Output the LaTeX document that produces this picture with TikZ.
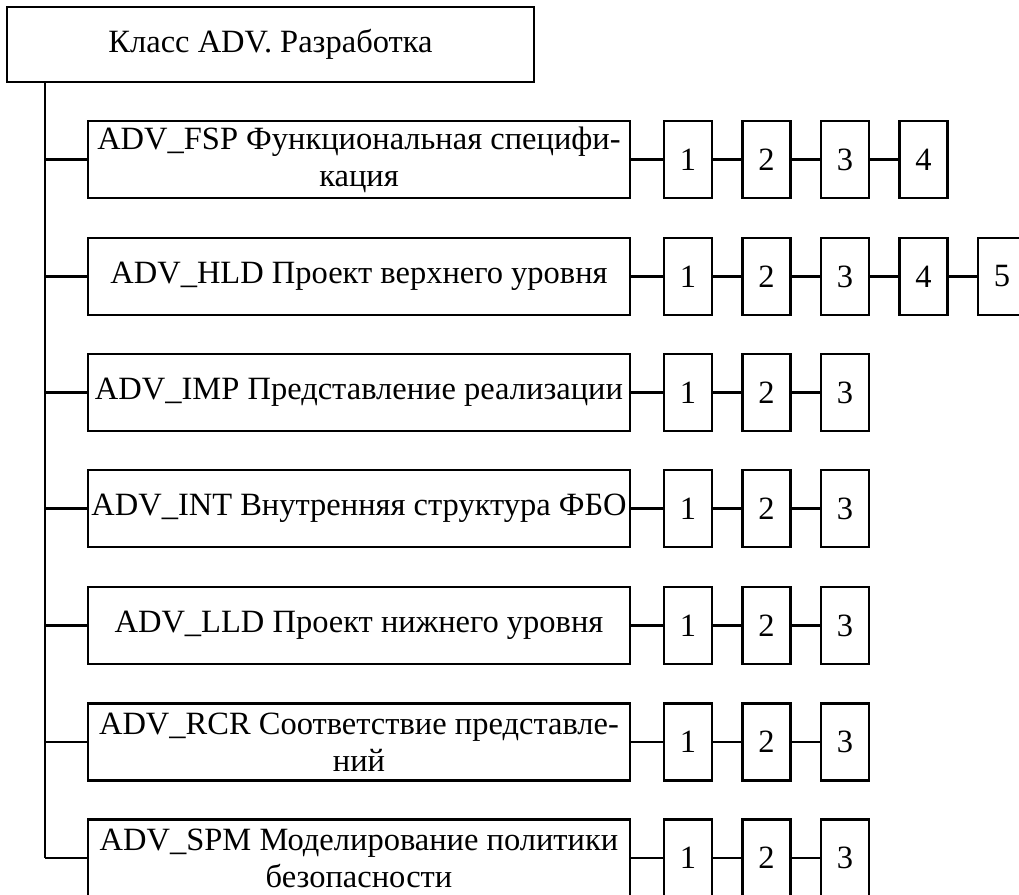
\documentclass[tikz,border=0pt]{standalone}
\usepackage{fontspec}
\setmainfont{Liberation Serif}
\begin{document}
\begin{tikzpicture}[x=1pt,y=-1pt,
  every node/.style={font=\fontsize{32.5}{37}\selectfont},
  boxline/.style={line width=2.4pt},
  topbox/.style={boxline,draw,minimum width=527pt,minimum height=75pt,inner sep=0pt},
  bigbox/.style={boxline,draw,minimum width=542pt,minimum height=77pt,inner sep=0pt,align=center},
  numbox/.style={boxline,draw,minimum width=48pt,minimum height=77pt,inner sep=0pt},
  link/.style={line width=2.4pt}]
\useasboundingbox (0,0) rectangle (1019,894);
\clip (0,0) rectangle (1019,894);
\fill[white] (0,0) rectangle (1019,894);
\node[topbox] (top) at (270.5,44.5) {Класс ADV. Разработка};
\coordinate (tk) at (45,82);
\foreach \name/\y/\txt/\n in {
  fsp/159.5/{ADV\_FSP Функциональная специфи-\\кация}/4,
  hld/276.5/{ADV\_HLD Проект верхнего уровня}/5,
  imp/392.5/{ADV\_IMP Представление реализации}/3,
  int/508.5/{ADV\_INT Внутренняя структура ФБО}/3,
  lld/625.5/{ADV\_LLD Проект нижнего уровня}/3,
  rcr/742/{ADV\_RCR Соответствие представле-\\ний}/3,
  spm/858/{ADV\_SPM Моделирование политики\\безопасности}/3}{
  \node[bigbox] (\name) at (359,\y) {\txt};
  \draw[link] (tk |- \name.west) -- (\name.west);
  \foreach \k in {1,...,\n}{
    \node[numbox] (\name\k) at ({688+78.5*(\k-1)},\y) {\k};
  }
  \draw[link] (\name.east) -- (\name1.west);
  \ifnum\n>1
    \foreach \k [evaluate=\k as \p using int(\k-1)] in {2,...,\n}{
      \draw[link] (\name\p.east) -- (\name\k.west);
    }
  \fi
}
\draw[link] (tk) -- (tk |- spm.west);
\end{tikzpicture}
\end{document}
